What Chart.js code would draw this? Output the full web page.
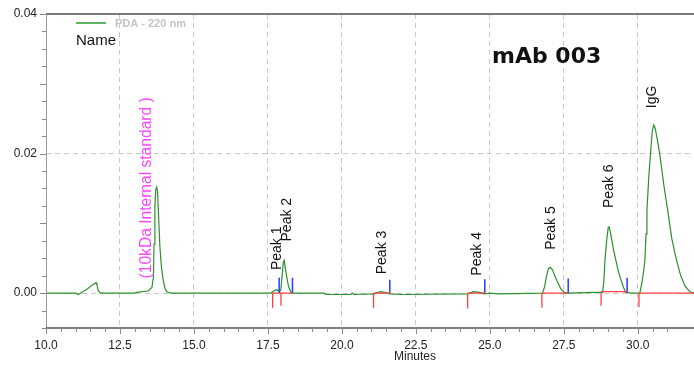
<!DOCTYPE html>
<html><head><meta charset="utf-8">
<script src="https://cdn.jsdelivr.net/npm/chart.js@4"></script>
<style>html,body{margin:0;padding:0;background:#fff;}</style>
</head><body>
<canvas id="c" width="694" height="368"></canvas>
<script>
// ---- data ----
const traceTime = [10.0, 11.0, 11.09, 11.2, 11.37, 11.54, 11.62, 11.69, 11.72, 11.77, 11.85,
  13.0, 13.05, 13.45, 13.58, 13.63, 13.65, 13.68, 13.71, 13.74, 13.77, 13.81, 13.85, 13.9, 13.96, 14.02, 14.08, 14.2,
  17.6, 17.7, 17.78, 17.84, 17.9, 17.94, 17.98, 18.02, 18.05, 18.09, 18.14, 18.2, 18.27, 18.33,
  19.4, 19.45, 20.3, 20.35, 20.4, 21.1, 21.3, 21.45, 21.62, 22.0,
  24.25, 24.45, 24.65, 24.83, 25.0, 25.3,
  26.78, 26.85, 26.92, 26.98, 27.05, 27.12, 27.2, 27.31, 27.4, 27.51, 27.65, 28.5,
  28.81, 28.85, 28.89, 28.95, 29.0, 29.03, 29.07, 29.12, 29.19, 29.26, 29.35, 29.43, 29.52, 29.59, 29.8,
  30.07, 30.14, 30.2, 30.24, 30.28, 30.31, 30.37, 30.43, 30.49, 30.54, 30.59, 30.66, 30.74, 30.88, 31.01, 31.15, 31.31, 31.45, 31.6, 31.76, 31.9];
const traceAbs = [0, 0, -0.0002, 0.0001, 0.0005, 0.0011, 0.0013, 0.0015, 0.0012, 0.0003, 0,
  0, 0.0001, 0.0003, 0.0008, 0.0023, 0.007, 0.0125, 0.0148, 0.0152, 0.0146, 0.0105, 0.0066, 0.0038, 0.0019, 0.0007, 0.0002, 0,
  0, 0.0003, 0.0005, 0.0004, 0.0002, 0.0006, 0.0025, 0.0044, 0.0047, 0.0035, 0.0022, 0.0009, 0.0002, 0,
  0, -0.0002, -0.0002, 0, -0.0002, -0.0001, 0.0002, 0.0001, -0.0001, -0.0002,
  -0.0001, 0.0002, 0.0001, -0.0001, 0, -0.0001,
  0, 0.0009, 0.0025, 0.0035, 0.0037, 0.0033, 0.0024, 0.0014, 0.0006, 0.0001, 0, 0.0001,
  0.0001, 0.0015, 0.0047, 0.0076, 0.0094, 0.0095, 0.0088, 0.0076, 0.006, 0.0047, 0.003, 0.0019, 0.0008, 0.0001, 0,
  0, 0.0015, 0.0032, 0.0047, 0.0085, 0.0119, 0.0165, 0.02, 0.0232, 0.0241, 0.0236, 0.022, 0.02, 0.0155, 0.0119, 0.0078, 0.0047, 0.0025, 0.001, 0.0002, 0];

// integration baselines (red) and peak start / end marks
const baseStart = [17.66, 21.07, 24.25, 26.76, 28.76, 30.04];
const baseEnd   = [18.33, 21.62, 24.83, 27.65, 29.64, 31.9];
const baseLevel = [0, 0, 0, 0, 0.0002, 0];
const startMarks = [17.66, 17.94, 21.07, 24.25, 26.76, 28.76, 30.04];
const startDepth = [-0.0021, -0.0018, -0.0021, -0.0022, -0.0021, -0.0018, -0.002];
const endMarks = [17.88, 18.33, 21.62, 24.83, 27.65, 29.64];
const endHeight = [0.0022, 0.0022, 0.0019, 0.002, 0.0021, 0.0022];

const peakNames = ['Peak 1', 'Peak 2', 'Peak 3', 'Peak 4', 'Peak 5', 'Peak 6', 'IgG'];
const peakLabelTime = [17.8, 18.14, 21.35, 24.56, 27.06, 29.02, 30.47];
const peakLabelAbs = [0.0033, 0.0074, 0.0027, 0.0025, 0.0062, 0.0122, 0.0265];
const stdName = '(10kDa Internal standard )';
const stdLabelTime = 13.41;
const stdLabelAbs = 0.0021;

const xMin = 10, xMax = 31.9, xStep = 0.5, xMajor = 2.5;
const yMin = -0.005, yMax = 0.04, yStep = 0.0025;
const yLabels = [0, 0.02, 0.04];
const yGrid = [0, 0.02];
const legendText = 'PDA - 220 nm';
const nameText = 'Name';
const titleText = 'mAb 003';
const xTitle = 'Minutes';

// ---- build datasets ----
const tracePts = traceTime.map((t, i) => ({x: t, y: traceAbs[i]}));
const redPts = [];
baseStart.forEach((s, i) => {
  redPts.push({x: s, y: baseLevel[i]}, {x: baseEnd[i], y: baseLevel[i]}, {x: baseEnd[i], y: null});
});
startMarks.forEach((s, i) => {
  redPts.push({x: s, y: startDepth[i]}, {x: s, y: 0}, {x: s, y: null});
});
const bluePts = [];
endMarks.forEach((s, i) => {
  bluePts.push({x: s, y: 0}, {x: s, y: endHeight[i]}, {x: s, y: null});
});

const near = (v, m) => Math.abs(v / m - Math.round(v / m)) < 1e-6;
const FONT = "'Liberation Sans', Arial, sans-serif";

const deco = {
  id: 'deco',
  afterDraw(chart) {
    const {ctx, chartArea: a, scales: {x, y}} = chart;
    ctx.save();
    // axes
    ctx.strokeStyle = '#7a7a7a'; ctx.lineWidth = 2;
    ctx.beginPath(); ctx.moveTo(a.left, a.top); ctx.lineTo(a.right, a.top); ctx.stroke();
    ctx.strokeStyle = '#999'; ctx.lineWidth = 1;
    ctx.beginPath(); ctx.moveTo(a.left + 0.5, a.top); ctx.lineTo(a.left + 0.5, a.bottom); ctx.stroke();
    ctx.strokeStyle = '#555'; ctx.lineWidth = 1.5;
    ctx.beginPath(); ctx.moveTo(a.left, a.bottom); ctx.lineTo(a.right, a.bottom); ctx.stroke();
    // tick marks
    ctx.strokeStyle = '#888'; ctx.lineWidth = 1;
    x.ticks.forEach(t => {
      if (!near(t.value, xStep)) return;
      const px = Math.round(x.getPixelForValue(t.value)) + 0.5;
      const len = near(t.value, xMajor) ? 6 : 4;
      ctx.beginPath(); ctx.moveTo(px, a.bottom); ctx.lineTo(px, a.bottom + len); ctx.stroke();
    });
    y.ticks.forEach(t => {
      const py = Math.round(y.getPixelForValue(t.value)) + 0.5;
      const len = near(t.value, 0.01) ? 6 : 4;
      ctx.beginPath(); ctx.moveTo(a.left - len, py); ctx.lineTo(a.left, py); ctx.stroke();
    });
    // legend
    ctx.strokeStyle = '#2e9a2e'; ctx.lineWidth = 1.5;
    ctx.beginPath(); ctx.moveTo(76, 23); ctx.lineTo(106, 23); ctx.stroke();
    ctx.fillStyle = '#c4c4c4'; ctx.font = 'bold 11px ' + FONT;
    ctx.textAlign = 'left'; ctx.textBaseline = 'middle';
    ctx.fillText(legendText, 115, 24);
    ctx.fillStyle = '#111'; ctx.font = '15px ' + FONT;
    ctx.fillText(nameText, 76, 41);
    // title
    ctx.font = "bold 22px 'DejaVu Sans', sans-serif"; ctx.textBaseline = 'alphabetic';
    ctx.fillText(titleText, 492, 63);
    // x title
    ctx.font = '12px ' + FONT; ctx.fillStyle = '#222'; ctx.textAlign = 'center'; ctx.textBaseline = 'middle';
    ctx.fillText(xTitle, 415, 357);
    // peak labels
    const rot = (txt, t, v, color, size) => {
      ctx.save();
      ctx.translate(x.getPixelForValue(t), y.getPixelForValue(v));
      ctx.rotate(-Math.PI / 2);
      ctx.fillStyle = color; ctx.font = size + 'px ' + FONT;
      ctx.textAlign = 'left'; ctx.textBaseline = 'middle';
      ctx.fillText(txt, 0, 0);
      ctx.restore();
    };
    peakNames.forEach((n, i) => rot(n, peakLabelTime[i], peakLabelAbs[i], '#111', 14));
    rot(stdName, stdLabelTime, stdLabelAbs, '#ff44ff', 15.6);
    ctx.restore();
  }
};

new Chart(document.getElementById('c'), {
  type: 'line',
  data: {
    datasets: [
      {data: redPts, borderColor: 'rgba(255,55,55,0.95)', borderWidth: 1.3, pointRadius: 0, order: 0, spanGaps: false},
      {data: bluePts, borderColor: '#3346ff', borderWidth: 1.6, pointRadius: 0, order: 0, spanGaps: false},
      {data: tracePts, borderColor: '#2a922a', borderWidth: 1.2, pointRadius: 0, order: 1, tension: 0}
    ]
  },
  options: {
    responsive: false, animation: false, events: [],
    layout: {padding: {top: 14, right: 0, left: 0, bottom: 0}},
    plugins: {legend: {display: false}, tooltip: {enabled: false}},
    scales: {
      x: {
        type: 'linear', min: xMin, max: xMax,
        afterFit(s) { s.height = 40; s.paddingLeft = 0; s.paddingRight = 0; },
        border: {display: false, dash: [5, 4]},
        grid: {drawTicks: false, lineWidth: 1,
          color: c => (c.tick && near(c.tick.value, xMajor) && c.tick.value > xMin + 1e-6) ? '#c9c9c9' : 'rgba(0,0,0,0)'},
        ticks: {stepSize: xStep, autoSkip: false, maxRotation: 0, padding: 10,
          color: '#222', font: {family: FONT, size: 12},
          callback: v => near(v, xMajor) ? v.toFixed(1) : ''}
      },
      y: {
        type: 'linear', min: yMin, max: yMax,
        afterFit(s) { s.width = 46; s.paddingTop = 0; s.paddingBottom = 0; },
        border: {display: false, dash: [5, 4]},
        grid: {drawTicks: false, lineWidth: 1,
          color: c => (c.tick && yGrid.some(g => Math.abs(c.tick.value - g) < 1e-9)) ? '#c9c9c9' : 'rgba(0,0,0,0)'},
        ticks: {stepSize: yStep, autoSkip: false, padding: 9,
          color: '#222', font: {family: FONT, size: 12},
          callback: v => yLabels.some(g => Math.abs(v - g) < 1e-9) ? v.toFixed(2) : ''}
      }
    }
  },
  plugins: [deco]
});
</script>
</body></html>
